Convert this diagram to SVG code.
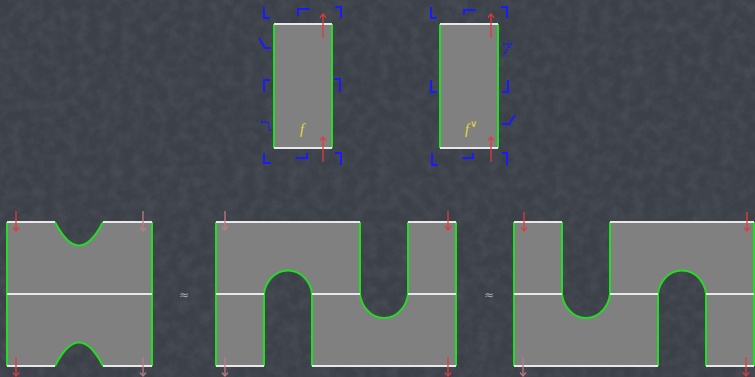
<svg xmlns="http://www.w3.org/2000/svg" width="755" height="377" viewBox="0 0 755 377">
<style>
.fillg{fill:#808080;stroke:none}
.gr{stroke:#22dd22;stroke-width:2;fill:none}
.wh{stroke:#e8e8e8;stroke-width:2;fill:none}
.bl{stroke:#1a1aff;stroke-width:2;fill:none}
.bld{stroke:#1a1aff;stroke-width:2;fill:none;stroke-dasharray:2 1.5}
.ar{stroke:#e03a3a;stroke-width:1.3;fill:none;marker-end:url(#mr)}
.ap{stroke:#c07a80;stroke-width:1.3;fill:none;marker-end:url(#mp)}
.lab{font-family:"Liberation Serif",serif;font-style:italic;fill:#e8dc3a}
.approx{font-family:"DejaVu Sans",sans-serif;font-size:12px;fill:#a8a8a8}
</style>
<defs>
<marker id="mr" markerUnits="userSpaceOnUse" markerWidth="10" markerHeight="10" refX="0" refY="0" viewBox="-5 -5 10 10" orient="auto"><path d="M-3.5,-3 L0,0 L-3.5,3" stroke="#e03a3a" stroke-width="1.2" fill="none"/></marker>
<marker id="mp" markerUnits="userSpaceOnUse" markerWidth="10" markerHeight="10" refX="0" refY="0" viewBox="-5 -5 10 10" orient="auto"><path d="M-3.5,-3 L0,0 L-3.5,3" stroke="#c07a80" stroke-width="1.2" fill="none"/></marker>
<filter id="noise" x="0" y="0" width="100%" height="100%">
<feTurbulence type="fractalNoise" baseFrequency="0.09" numOctaves="3" seed="4"/>
<feColorMatrix type="matrix" values="0 0 0 0 0.5  0 0 0 0 0.52  0 0 0 0 0.56  0 0 0 0.9 -0.3"/>
</filter>
</defs>
<rect width="755" height="377" fill="#3c4149"/>
<rect width="755" height="377" filter="url(#noise)" opacity="0.18"/>

<g id="box-f">
<rect class="fillg" x="274" y="24" width="58" height="124"/>
<path class="gr" d="M274,24 V148 M332,24 V148"/>
<path class="wh" d="M274,24 H332 M274,148 H332"/>
<path class="bl" d="M264,7 V18 H270 M259,38 L265,48 H271 M264,92 V80 H270 M264,153 V163 H271 M298,16 V9 H310 M335,7 H341 V18 M334,79 H340 V92 M296,158 H307 V153 M335,153 H341 V165"/>
<path class="bld" d="M261,122 H268 L270,131"/>
<text class="lab" x="300" y="134" font-size="14">f</text>
</g>

<g id="box-fdual">
<rect class="fillg" x="440" y="24" width="58" height="124"/>
<path class="gr" d="M440,24 V148 M498,24 V148"/>
<path class="wh" d="M440,24 H498 M440,148 H498"/>
<path class="bl" d="M431,7 V18 H437 M464,15 V10 H476 M501,7 H507 V18 M431,80 V92 H437 M508,80 V92 H502 M515,115 L509,124 H502 M432,153 V165 H438 M462,158 H473 V153 M502,153 H507 V165"/>
<path class="bld" d="M503,44 H511 L503,55"/>
<text class="lab" x="465" y="134" font-size="14">f<tspan font-size="10" font-style="normal" dy="-7" dx="1">∨</tspan></text>
</g>

<g id="fig-left">
<path class="fillg" d="M7,222 H55 Q79,269 103,222 H152 V366 H103 Q79,319 55,366 H7 Z"/>
<path class="gr" d="M7,222 V366 M152,222 V366 M55,222 Q79,269 103,222 M103,366 Q79,319 55,366"/>
<path class="wh" d="M7,222 H55 M103,222 H152 M7,294 H152 M7,366 H55 M103,366 H152"/>
</g>

<g id="fig-middle">
<path class="fillg" d="M216,222 H360 V294 C361,305 370,318 384,318 C398,318 407,305 408,294 V222 H456 V366 H312 V294 C311,283 302,270.5 288,270.5 C274,270.5 265,283 264,294 V366 H216 Z"/>
<path class="gr" d="M216,222 V366 M456,222 V366 M360,222 V294 C361,305 370,318 384,318 C398,318 407,305 408,294 V222 M264,366 V294 C265,283 274,270.5 288,270.5 C302,270.5 311,283 312,294 V366"/>
<path class="wh" d="M216,222 H360 M408,222 H456 M216,294 H264 M312,294 H360 M408,294 H456 M216,366 H264 M312,366 H456"/>
</g>

<g id="fig-right">
<path class="fillg" d="M514,222 H562 V294 C563,305 572,318 586,318 C600,318 609,305 610,294 V222 H754 V366 H706 V294 C705,283 696,270.5 682,270.5 C668,270.5 659,283 658,294 V366 H514 Z"/>
<path class="gr" d="M514,222 V366 M754,222 V366 M562,222 V294 C563,305 572,318 586,318 C600,318 609,305 610,294 V222 M658,366 V294 C659,283 668,270.5 682,270.5 C696,270.5 705,283 706,294 V366"/>
<path class="wh" d="M514,222 H562 M610,222 H754 M514,294 H562 M610,294 H658 M706,294 H754 M514,366 H658 M706,366 H754"/>
</g>

<g id="approx-1"><text class="approx" x="184" y="299" text-anchor="middle">≈</text></g>
<g id="approx-2"><text class="approx" x="489" y="299" text-anchor="middle">≈</text></g>

<g id="connectors">
<path class="ar" d="M323,38 V14"/>
<path class="ar" d="M323,162 V137"/>
<path class="ar" d="M491,38 V14"/>
<path class="ar" d="M491,162 V137"/>
<path class="ar" d="M16,211 V231"/>
<path class="ap" d="M143,211 V231"/>
<path class="ar" d="M16,357 V376"/>
<path class="ap" d="M143,357 V376"/>
<path class="ap" d="M225,211 V230"/>
<path class="ar" d="M448,211 V230"/>
<path class="ap" d="M225,357 V376"/>
<path class="ar" d="M448,357 V376"/>
<path class="ar" d="M524,212 V231"/>
<path class="ar" d="M747,212 V231"/>
<path class="ap" d="M523,357 V376"/>
<path class="ar" d="M746,357 V376"/>
</g>
</svg>
